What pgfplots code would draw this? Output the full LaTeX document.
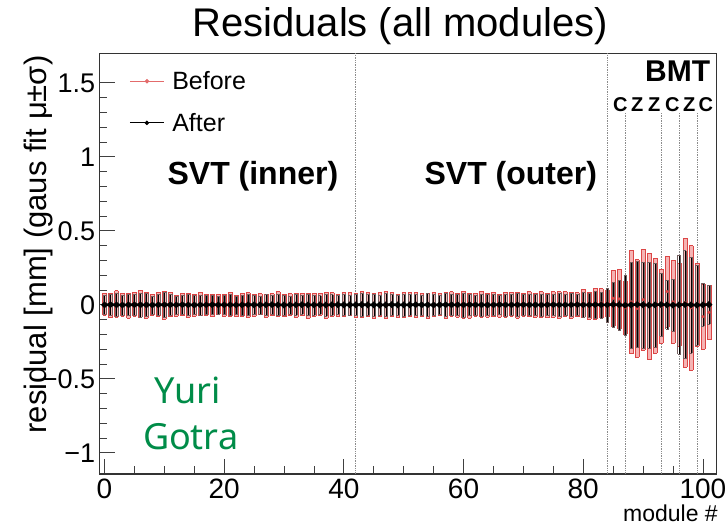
\documentclass[border=0pt]{standalone}
\usepackage{fontspec}
\setmainfont{Liberation Sans}
\newfontfamily\yurifont{Noto Sans}
\usepackage{pgfplots}
\usepackage{pgfplotstable}
\pgfplotsset{compat=1.18}
\definecolor{bef}{RGB}{220,70,70}
\definecolor{beffill}{RGB}{245,180,180}
\definecolor{aft}{RGB}{115,95,95}
\definecolor{yuri}{RGB}{0,140,72}

\pgfplotstableread{
x bm bs am as
0 0.005 0.075 0.000 0.065
1 -0.004 0.082 0.001 0.070
2 0.006 0.090 0.000 0.078
3 0.002 0.078 -0.001 0.066
4 -0.006 0.085 0.000 0.072
5 0.004 0.080 0.001 0.069
6 0.008 0.092 0.000 0.080
7 -0.003 0.088 0.000 0.076
8 0.001 0.072 -0.001 0.062
9 0.005 0.079 0.000 0.070
10 -0.002 0.096 0.001 0.084
11 0.003 0.083 0.000 0.071
12 -0.005 0.070 0.000 0.061
13 0.004 0.076 0.001 0.066
14 0.000 0.081 0.000 0.069
15 -0.004 0.074 -0.001 0.064
16 0.006 0.079 0.000 0.068
17 0.002 0.072 0.000 0.063
18 -0.003 0.077 0.001 0.066
19 0.005 0.069 0.000 0.060
20 -0.001 0.075 0.000 0.065
21 0.004 0.080 0.000 0.070
22 -0.006 0.073 -0.001 0.063
23 0.003 0.078 0.000 0.068
24 0.001 0.082 0.001 0.071
25 -0.002 0.076 0.000 0.066
26 0.005 0.071 0.000 0.062
27 -0.004 0.079 0.000 0.069
28 0.002 0.074 0.001 0.064
29 0.006 0.084 0.000 0.073
30 -0.003 0.077 -0.001 0.067
31 0.004 0.072 0.000 0.062
32 -0.001 0.080 0.000 0.070
33 0.003 0.075 0.001 0.065
34 -0.005 0.083 0.000 0.072
35 0.002 0.078 0.000 0.068
36 0.006 0.073 0.000 0.063
37 -0.002 0.086 -0.001 0.075
38 0.004 0.079 0.000 0.069
39 -0.004 0.074 0.001 0.064
40 0.001 0.081 0.000 0.071
41 0.005 0.077 0.000 0.067
42 -0.003 0.083 0.000 0.073
43 0.002 0.088 0.001 0.077
44 0.006 0.080 0.000 0.070
45 -0.005 0.085 0.000 0.074
46 0.003 0.079 -0.001 0.069
47 -0.001 0.090 0.000 0.079
48 0.004 0.082 0.001 0.072
49 -0.004 0.077 0.000 0.067
50 0.002 0.086 0.000 0.075
51 0.005 0.080 0.000 0.070
52 -0.002 0.084 0.001 0.073
53 0.003 0.078 0.000 0.068
54 -0.006 0.087 0.000 0.076
55 0.001 0.081 -0.001 0.071
56 0.004 0.076 0.000 0.066
57 -0.003 0.089 0.001 0.078
58 0.006 0.083 0.000 0.072
59 -0.002 0.079 0.000 0.069
60 0.003 0.091 0.000 0.080
61 -0.005 0.084 0.001 0.073
62 0.002 0.078 0.000 0.068
63 0.005 0.086 0.000 0.075
64 -0.001 0.080 -0.001 0.070
65 0.004 0.083 0.000 0.072
66 -0.004 0.077 0.001 0.067
67 0.002 0.085 0.000 0.074
68 0.006 0.081 0.000 0.071
69 -0.003 0.088 0.000 0.077
70 0.001 0.079 0.001 0.069
71 0.005 0.084 0.000 0.073
72 -0.002 0.080 0.000 0.070
73 0.003 0.087 -0.001 0.076
74 -0.005 0.082 0.000 0.072
75 0.004 0.085 0.001 0.074
76 -0.001 0.090 0.000 0.079
77 0.006 0.083 0.000 0.073
78 -0.004 0.088 0.000 0.077
79 0.002 0.081 0.001 0.071
80 0.010 0.095 0.000 0.083
81 -0.006 0.092 0.000 0.081
82 0.008 0.105 0.001 0.090
83 0.012 0.098 0.000 0.087
84 0.010 0.090 0.000 0.115
85 0.045 0.190 0.002 0.150
86 0.040 0.200 0.000 0.170
87 -0.020 0.180 -0.002 0.205
88 0.020 0.350 0.000 0.290
89 -0.025 0.330 0.002 0.290
90 0.035 0.340 0.000 0.290
91 -0.010 0.360 -0.002 0.290
92 -0.005 0.320 0.000 0.285
93 -0.010 0.250 0.002 0.215
94 0.090 0.240 0.000 0.165
95 0.020 0.280 -0.002 0.175
96 0.000 0.280 0.000 0.335
97 0.015 0.435 0.002 0.365
98 -0.020 0.420 0.000 0.325
99 0.000 0.280 -0.002 0.270
100 -0.080 0.220 0.000 0.145
101 -0.050 0.185 0.002 0.130
}\resdata

\begin{document}
\begin{tikzpicture}
\useasboundingbox (0,0) rectangle (725pt,529pt);
\begin{axis}[
  at={(99.7pt,55pt)}, anchor=south west,
  scale only axis, width=617pt, height=420.7pt,
  xmin=-0.8, xmax=102.3, ymin=-1.143, ymax=1.70,
  clip=false,
  axis line style={black!80, line width=1.1pt},
  tick align=inside, xtick pos=lower, ytick pos=left,
  xtick={0,20,40,60,80,100}, minor x tick num=3,
  ytick={-1,-0.5,0,0.5,1,1.5}, minor y tick num=4,
  yticklabels={−1,−0.5,0,0.5,1,1.5},
  xticklabels={0,20,40,60,80,100},
  major tick length=15pt, minor tick length=7.5pt,
  every tick/.style={black!75, line width=0.8pt},
  yticklabel style={font=\fontsize{27}{29}\selectfont, xshift=-1pt},
  xticklabel style={font=\fontsize{28}{30}\selectfont, yshift=-1pt},
  title={Residuals (all modules)},
  title style={at={(axis description cs:0.487,1)}, anchor=base, yshift=11pt, font=\fontsize{40}{44}\selectfont},
  ylabel={residual [mm] (gaus fit μ±σ)},
  ylabel style={at={(axis description cs:-0.086,0.995)}, anchor=base east, inner sep=0pt, font=\fontsize{31}{33}\selectfont},
  xlabel={module \#},
  xlabel style={at={(axis description cs:1.002,-0.114)}, anchor=base east, inner sep=0pt, font=\fontsize{23}{25}\selectfont},
  legend style={at={(axis description cs:0.048,0.962)}, anchor=north west, draw=none, fill=none,
    font=\fontsize{25}{28}\selectfont, row sep=18pt, inner sep=0pt,
    /tikz/every even column/.append style={column sep=0pt}},
  legend cell align=left,
  legend image code/.code={\draw[mark repeat=2,mark phase=2,#1] plot coordinates {(0pt,0pt) (17pt,0pt) (34pt,0pt)};},
]
% dotted separators
\addplot[forget plot, black!45, densely dotted, line width=0.7pt] coordinates {(42,-1.143) (42,1.70)};
\addplot[forget plot, black!45, densely dotted, line width=0.7pt] coordinates {(84,-1.143) (84,1.70)};
\addplot[forget plot, black!45, densely dotted, line width=0.7pt] coordinates {(87,-1.143) (87,1.30)};
\addplot[forget plot, black!45, densely dotted, line width=0.7pt] coordinates {(93,-1.143) (93,1.30)};
\addplot[forget plot, black!45, densely dotted, line width=0.7pt] coordinates {(96,-1.143) (96,1.30)};
\addplot[forget plot, black!45, densely dotted, line width=0.7pt] coordinates {(99,-1.143) (99,1.30)};
% Before: filled boxes with caps
\addplot[forget plot, draw=none, mark=none,
  error bars/.cd, y dir=both, y explicit,
  error bar style={beffill, line width=3.6pt},
  error mark options={rotate=90, mark size=1.9pt, bef, line width=0.5pt}]
  table[x=x, y=bm, y error=bs] {\resdata};
\addplot[forget plot, draw=none, mark=none,
  error bars/.cd, y dir=both, y explicit,
  error bar style={bef, line width=0.5pt}, error mark=none]
  table[x expr=\thisrow{x}-0.31, y=bm, y error=bs] {\resdata};
\addplot[forget plot, draw=none, mark=none,
  error bars/.cd, y dir=both, y explicit,
  error bar style={bef, line width=0.5pt}, error mark=none]
  table[x expr=\thisrow{x}+0.31, y=bm, y error=bs] {\resdata};
\addplot[forget plot, only marks, mark=*, mark size=1.4pt, bef] table[x=x, y=bm] {\resdata};
% After: outlined boxes
\addplot[forget plot, draw=none, mark=none,
  error bars/.cd, y dir=both, y explicit,
  error bar style={draw=none},
  error mark options={rotate=90, mark size=1.5pt, aft, line width=0.35pt}]
  table[x=x, y=am, y error=as] {\resdata};
\addplot[forget plot, draw=none, mark=none,
  error bars/.cd, y dir=both, y explicit,
  error bar style={aft, line width=0.35pt}, error mark=none]
  table[x expr=\thisrow{x}-0.24, y=am, y error=as] {\resdata};
\addplot[forget plot, draw=none, mark=none,
  error bars/.cd, y dir=both, y explicit,
  error bar style={aft, line width=0.35pt}, error mark=none]
  table[x expr=\thisrow{x}+0.24, y=am, y error=as] {\resdata};
\addplot[forget plot, black, line width=2.6pt, mark=*, mark size=1.7pt] table[x=x, y=am] {\resdata};
% legend
\addlegendimage{bef!80, line width=0.8pt, mark=*, mark size=1.8pt}
\addlegendentry{\hspace{6pt}Before}
\addlegendimage{black, line width=0.8pt, mark=*, mark size=1.8pt}
\addlegendentry{\hspace{6pt}After}
% annotations
\node[font=\fontsize{32}{34}\selectfont\bfseries] at (axis cs:24.8,0.87) {SVT (inner)};
\node[font=\fontsize{32}{34}\selectfont\bfseries] at (axis cs:67.9,0.87) {SVT (outer)};
\node[font=\fontsize{30}{32}\selectfont\bfseries, anchor=east] at (axis cs:101.8,1.576) {BMT};
\node[font=\fontsize{20}{22}\selectfont\bfseries] at (axis cs:86.2,1.355) {C};
\node[font=\fontsize{20}{22}\selectfont\bfseries] at (axis cs:89.0,1.355) {Z};
\node[font=\fontsize{20}{22}\selectfont\bfseries] at (axis cs:91.85,1.355) {Z};
\node[font=\fontsize{20}{22}\selectfont\bfseries] at (axis cs:94.9,1.355) {C};
\node[font=\fontsize{20}{22}\selectfont\bfseries] at (axis cs:97.7,1.355) {Z};
\node[font=\fontsize{20}{22}\selectfont\bfseries] at (axis cs:100.5,1.355) {C};
\node[font=\yurifont\fontsize{36}{40}\selectfont, text=yuri] at (axis cs:13.9,-0.575) {Yuri};
\node[font=\yurifont\fontsize{36}{40}\selectfont, text=yuri] at (axis cs:14.4,-0.893) {Gotra};
\end{axis}
\end{tikzpicture}
\end{document}
